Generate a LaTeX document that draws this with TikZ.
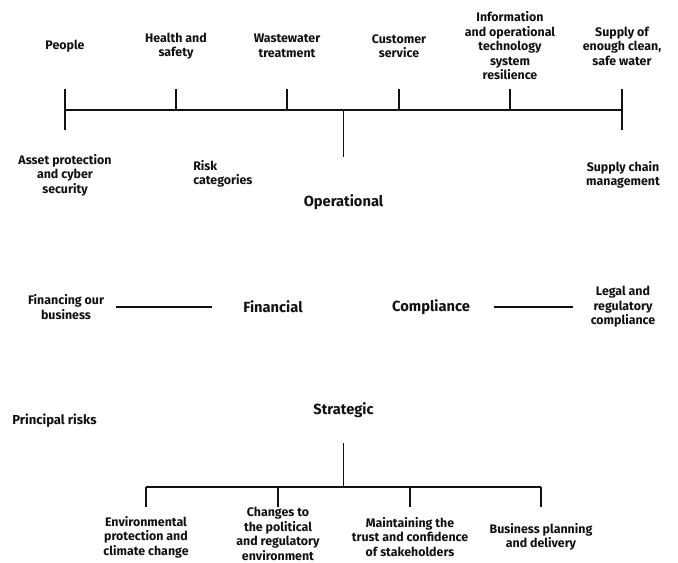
\documentclass[tikz,border=0pt]{standalone}
\usepackage{fontspec}
\setsansfont{Fira Sans}
\usetikzlibrary{positioning}
\definecolor{Ink}{HTML}{111111}
\definecolor{Paper}{HTML}{FFFFFF}

\begin{document}
\begin{tikzpicture}[x=0.75pt,y=-0.75pt,font=\sffamily\bfseries,text=Ink,leaf/.style={align=center,inner sep=0pt,font=\sffamily\bfseries\fontsize{9.3}{10.9}\selectfont},cat/.style={inner sep=0pt,font=\sffamily\bfseries\fontsize{11}{12}\selectfont},link/.style={draw=Ink,line width=1.1pt}]
\fill[Paper] (0,0) rectangle (678,563);
\useasboundingbox (0,0) rectangle (678,563);
% operational branch
\node[leaf] (people) at (65,46){People};
\node[leaf] (health) at (176,46){Health and\\safety};
\node[leaf] (waste) at (287,46){Wastewater\\treatment};
\node[leaf] (customer) at (399,46){Customer\\service};
\node[leaf] (itot) at (510,46){Information\\and operational\\technology\\system\\resilience};
\node[leaf] (supply) at (622,46){Supply of\\enough clean,\\safe water};
\node[leaf] (asset) at (65,175){Asset protection\\and cyber\\security};
\node[leaf,align=left,anchor=west] (riskcat) at (193,174){Risk\\categories};
\node[leaf] (chain) at (623,175){Supply chain\\management};
\node[cat] (operational) at (343.5,202){Operational};
\coordinate (optop) at (0,89);\coordinate (opbus) at (0,110);\coordinate (oplow) at (0,130);\coordinate (opstem) at (0,157);
\foreach \n in {people,health,waste,customer,itot,supply}{\draw[link] (\n |- optop) -- (\n |- opbus);}
\draw[link] (people |- opbus) -- (supply |- opbus);
\draw[link] (asset |- opbus) -- (asset |- oplow);\draw[link] (supply |- opbus) -- (supply |- oplow);
\draw[link] (operational |- opbus) -- (operational |- opstem);
% financial and compliance
\node[leaf] (finbiz) at (66,307){Financing our\\business};
\node[cat] (financial) at (273,307){Financial};
\node[cat] (compliance) at (431,307){Compliance};
\node[leaf] (legal) at (623,307){Legal and\\regulatory\\compliance};
\draw[link,shorten <=9pt,shorten >=23pt] (finbiz) -- (financial);
\draw[link,shorten <=18pt,shorten >=13pt] (compliance) -- (legal);
% strategic branch
\node[leaf,anchor=west,font=\sffamily\bfseries\fontsize{9.8}{12}\selectfont] (principal) at (12,421){Principal risks};
\node[cat] (strategic) at (343.5,410){Strategic};
\node[leaf] (environ) at (146,537){Environmental\\protection and\\climate change};
\node[leaf] (political) at (278,534){Changes to\\the political\\and regulatory\\environment};
\node[leaf] (trust) at (410,537){Maintaining the\\trust and confidence\\of stakeholders};
\node[leaf] (bizplan) at (541,537){Business planning\\and delivery};
\coordinate (ststem) at (0,443);\coordinate (stbus) at (0,487);\coordinate (stlow) at (0,507);
\draw[link] (strategic |- ststem) -- (strategic |- stbus);
\draw[link] (environ |- stbus) -- (bizplan |- stbus);
\foreach \n in {environ,political,trust,bizplan}{\draw[link] (\n |- stbus) -- (\n |- stlow);}
\end{tikzpicture}
\end{document}
